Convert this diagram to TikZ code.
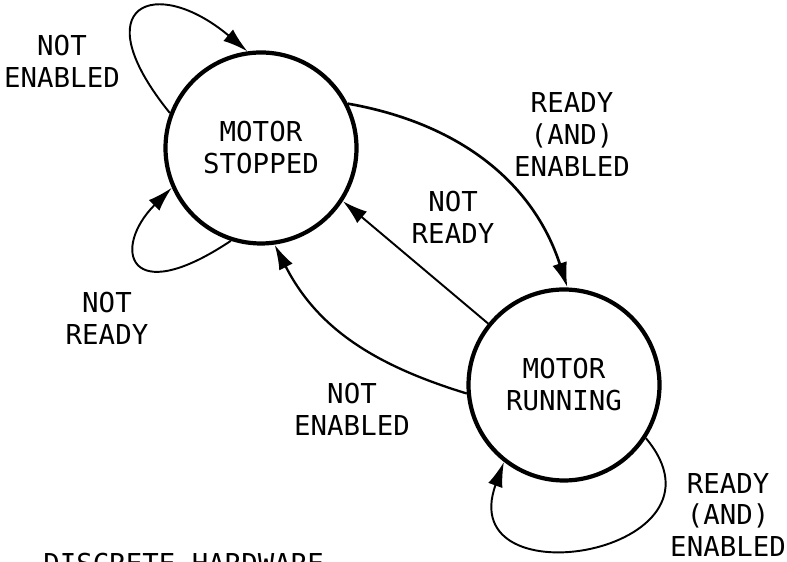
\documentclass[tikz,border=0pt]{standalone}
\usepackage{fontspec}
\setmonofont{DejaVu Sans Mono}
\usetikzlibrary{arrows.meta}

\begin{document}
\begin{tikzpicture}[
    state/.style={circle, draw, line width=2.4pt, minimum size=3.82cm, inner sep=0pt},
    txt/.style={font=\ttfamily\fontsize{15.6}{18.2}\selectfont, align=center, inner sep=0pt},
    trans/.style={-{Latex[length=0.5cm,width=0.3cm]}, line width=1.1pt},
    ]
    \useasboundingbox (0,0) rectangle (15.74,11.24);

    % the two states
    \node [state, txt] (stopped) at (5.22,8.28) {MOTOR\\STOPPED};
    \node [state, txt] (running) at (11.28,3.54) {MOTOR\\RUNNING};

    % conditions
    \node [txt] (stopNotEn) at (1.24,10.02) {NOT\\ENABLED};
    \node [txt] (stopNotRdy) at (2.14,4.88) {NOT\\READY};
    \node [txt] (runNotRdy) at (9.06,6.89) {NOT\\READY};
    \node [txt] (startRdyEn) at (11.44,8.54) {READY\\(AND)\\ENABLED};
    \node [txt] (runNotEn) at (7.04,3.06) {NOT\\ENABLED};
    \node [txt] (runRdyEn) at (14.56,0.94) {READY\\(AND)\\ENABLED};
    \node [txt, anchor=north west] (caption) at (0.86,0.18) {DISCRETE HARDWARE};

    % transitions
    \draw [trans] (stopped.159) .. controls +(129:2.8cm) and +(140:2.4cm) .. (stopped.98);
    \draw [trans] (stopped.-108) .. controls +(213.7:2.5cm) and +(225:1.7cm) .. (stopped.-156);
    \draw [trans, line width=1.5pt] (stopped.27.6) to [out=-10, in=108] (running.88);
    \draw [trans] (running.141) -- (stopped.-33);
    \draw [trans, line width=1.3pt] (running.185) to [out=163, in=-63] (stopped.-82);
    \draw [trans] (running.-33.5) .. controls +(-50:3cm) and +(250:3cm) .. (running.-128);
\end{tikzpicture}
\end{document}
